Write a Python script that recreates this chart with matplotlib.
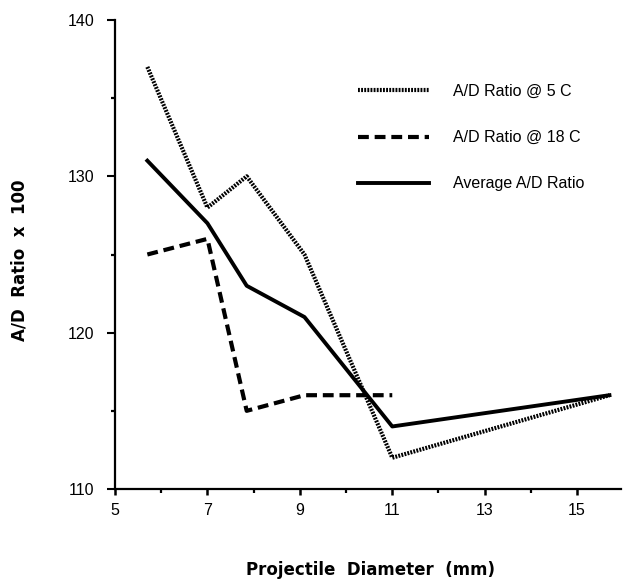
import matplotlib
matplotlib.use("Agg")
import matplotlib.pyplot as plt
from matplotlib.ticker import FixedLocator

plt.rcParams['font.family'] = ['Liberation Sans', 'DejaVu Sans']

diam = [5.7, 7.0, 7.85, 9.1, 11.0, 15.7]
ratio_5c = [137, 128, 130, 125, 112, 116]
diam_18 = [5.7, 7.0, 7.85, 9.1, 11.0]
ratio_18c = [125, 126, 115, 116, 116]
ratio_avg = [131, 127, 123, 121, 114, 116]

labels = ["A/D Ratio @ 5 C", "A/D Ratio @ 18 C", "Average A/D Ratio"]
x_major = [5, 7, 9, 11, 13, 15]
x_minor = [6, 8, 10, 12, 14]
y_major = [110, 120, 130, 140]
y_minor = [115, 125, 135]

fig = plt.figure(figsize=(6.23, 5.79), dpi=100)
ax = fig.add_axes([115/623, 1-489/579, (621-115)/623, (489-20)/579])

l1, = ax.plot(diam, ratio_5c, color='black', lw=3.0, linestyle=(0, (0.45, 0.3)), label=labels[0])
l2, = ax.plot(diam_18, ratio_18c, color='black', lw=3.0, linestyle=(0, (2.6, 1.4)), label=labels[1])
l3, = ax.plot(diam, ratio_avg, color='black', lw=2.8, linestyle='-', label=labels[2])

ax.set_xlim(5, 15.95)
ax.set_ylim(110, 140)
ax.xaxis.set_major_locator(FixedLocator(x_major))
ax.xaxis.set_minor_locator(FixedLocator(x_minor))
ax.yaxis.set_major_locator(FixedLocator(y_major))
ax.yaxis.set_minor_locator(FixedLocator(y_minor))
for s in ['top', 'right']:
    ax.spines[s].set_visible(False)
for s in ['left', 'bottom']:
    ax.spines[s].set_linewidth(1.6)
ax.tick_params(axis='x', which='major', direction='out', length=4, width=1.8, labelsize=11.5, pad=6)
ax.tick_params(axis='y', which='major', direction='out', length=6, width=1.5, labelsize=11.5, pad=9)
ax.tick_params(which='minor', direction='out', length=3, width=1.6)

fig.text(371/623, 1-570/579, "Projectile  Diameter  (mm)", fontsize=12, fontweight='bold',
         family='DejaVu Sans', ha='center', va='center')
fig.text(20/623, 1-260/579, "A/D  Ratio  x  100", fontsize=12, fontweight='bold',
         family='DejaVu Sans', ha='center', va='center', rotation=90)

leg = ax.legend(handles=[l1, l2, l3], loc='upper left', bbox_to_anchor=(350/623, 1-76/579),
                bbox_transform=fig.transFigure, frameon=False, fontsize=11.5,
                handlelength=4.45, handletextpad=1.5, labelspacing=1.95, borderpad=0)

fig.savefig("out.png", dpi=100)
